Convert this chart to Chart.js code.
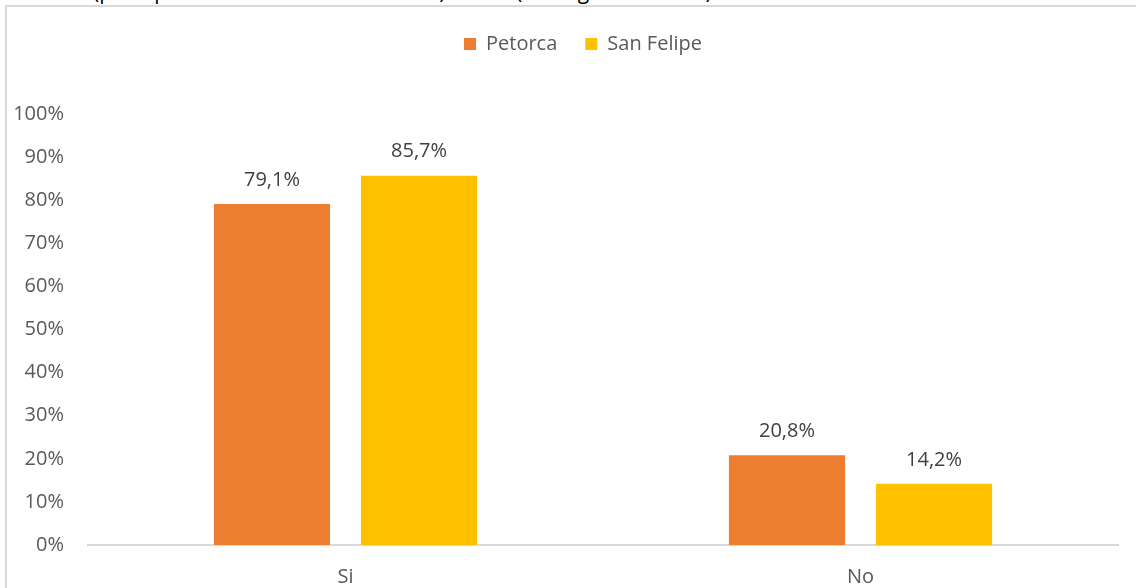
<!DOCTYPE html>
<html>
<head>
<meta charset="utf-8">
<script src="https://cdn.jsdelivr.net/npm/chart.js@4.4.1/dist/chart.umd.min.js"></script>
<style>
  html, body { margin: 0; padding: 0; background: #fff; width: 1136px; height: 588px; overflow: hidden; }
  #frame { position: absolute; left: 5px; top: 5px; width: 1200px; height: 700px; border: 2px solid #d9d9d9; box-sizing: border-box; }
  .cap { position: absolute; top: -19px; font: 21px "Open Sans", sans-serif; color: #000; white-space: nowrap; line-height: 21px; }
  #wrap { position: absolute; left: 0; top: 0; width: 1136px; height: 588px; }
</style>
</head>
<body>
<div class="cap" style="left:93px">(principal fuente de abastecimiento)</div>
<div class="cap" style="left:516px">(en hogares rurales)</div>
<div id="frame"></div>
<div id="wrap"><canvas id="c" width="1136" height="588"></canvas></div>
<script>
// Respuestas y porcentajes por provincia
const categories = ['Si', 'No'];
const petorca = [79.1, 20.8];
const sanFelipe = [85.7, 14.2];
const yTickStep = 10;

const FONT = '"Open Sans", sans-serif';
const SIZE = 20;
const fmt = v => v.toFixed(1).replace('.', ',') + '%';

// Etiquetas de valor sobre cada barra
const valueLabels = {
  id: 'valueLabels',
  afterDatasetsDraw(chart) {
    const ctx = chart.ctx;
    ctx.save();
    ctx.font = SIZE + 'px ' + FONT;
    ctx.fillStyle = '#404040';
    ctx.textAlign = 'center';
    ctx.textBaseline = 'middle';
    chart.data.datasets.forEach((ds, i) => {
      chart.getDatasetMeta(i).data.forEach((bar, j) => {
        ctx.fillText(fmt(ds.data[j]), bar.x, bar.y - 24);
      });
    });
    ctx.restore();
  }
};

// Leyenda: altura fija y centrada sobre la zona de barras
const legendPlacement = {
  id: 'legendPlacement',
  beforeLayout(chart) {
    const lg = chart.legend;
    if (lg && !lg._fixed) {
      const orig = lg.fit.bind(lg);
      lg.fit = function () { orig(); this.height = 108; };
      lg._fixed = true;
    }
  },
  afterLayout(chart) {
    if (chart.legend) chart.legend.left = 48;
  }
};

new Chart(document.getElementById('c'), {
  type: 'bar',
  data: {
    labels: categories,
    datasets: [
      { label: 'Petorca', data: petorca, backgroundColor: '#ED7D31' },
      { label: 'San Felipe', data: sanFelipe, backgroundColor: '#FFC000' }
    ]
  },
  plugins: [valueLabels, legendPlacement],
  options: {
    responsive: false,
    animation: false,
    layout: { padding: { left: 8, right: 18, top: 6, bottom: 0 } },
    datasets: { bar: { categoryPercentage: 0.571, barPercentage: 0.79 } },
    plugins: {
      legend: {
        position: 'top',
        labels: {
          font: { family: FONT, size: SIZE },
          color: '#595959',
          boxWidth: 12,
          boxHeight: 12,
          padding: 28
        }
      },
      tooltip: { enabled: false }
    },
    scales: {
      x: {
        afterFit(scale) { scale.height = 43; },
        grid: { display: false, drawTicks: false },
        border: { display: true, color: '#d9d9d9', width: 2 },
        ticks: { font: { family: FONT, size: SIZE }, color: '#595959', padding: 20 }
      },
      y: {
        min: 0,
        max: 100,
        afterFit(scale) { scale.width = 80; },
        grid: { display: false, drawTicks: false },
        border: { display: false },
        ticks: {
          stepSize: yTickStep,
          font: { family: FONT, size: SIZE },
          color: '#595959',
          padding: 24,
          callback: v => v + '%'
        }
      }
    }
  }
});
</script>
</body>
</html>
